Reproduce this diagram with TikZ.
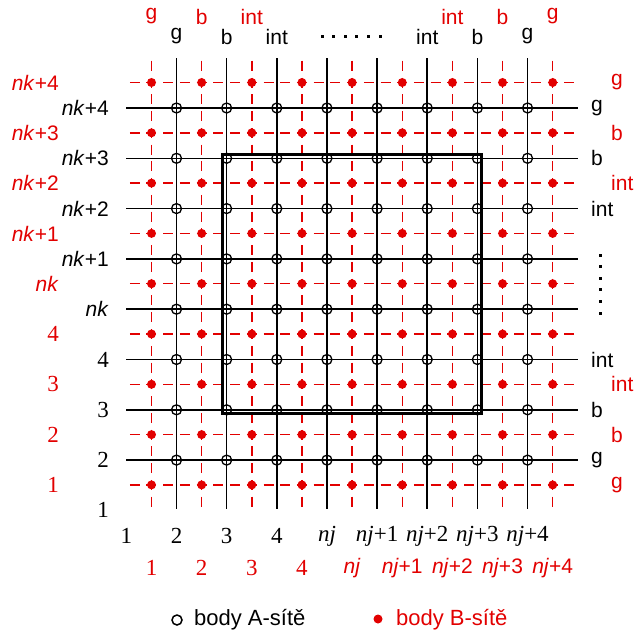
\documentclass[tikz,border=0pt]{standalone}
\usepackage{fontspec}
\setmainfont{Liberation Serif}
\setsansfont{Liberation Sans}
\definecolor{myred}{RGB}{226,0,0}
\begin{document}
\begin{tikzpicture}[x=1pt,y=-1pt,
  gridA/.style={line width=1.6pt, black},
  gridBh/.style={line width=1.5pt, myred, dash pattern=on 10pt off 6.717pt, dash phase=12.94pt},
  gridBv/.style={line width=1.5pt, myred, dash pattern=on 10pt off 6.767pt, dash phase=14.03pt},
  ptA/.style={circle, draw=black, line width=1.3pt, minimum size=10pt, inner sep=0pt},
  ptB/.style={circle, fill=myred, minimum size=9pt, inner sep=0pt},
  lab/.style={font=\fontsize{23}{27}\selectfont, inner sep=0pt},
  labs/.style={font=\fontsize{21}{25}\selectfont\sffamily, inner sep=0pt},
  legend/.style={font=\fontsize{22}{26}\selectfont\sffamily, inner sep=0pt, anchor=west},
  frame/.style={line width=2.4pt, black},
  dotmark/.style={fill=black}
]
\useasboundingbox (0,0) rectangle (636,637);
% B grid (red, dashed)
\foreach \j in {0,...,8} {
  \pgfmathsetmacro\xx{151.5+50.15*\j}
  \coordinate (bvt\j) at (\xx,58);
  \coordinate (bvb\j) at (\xx,509);
  \draw[gridBv] (bvt\j) -- (bvb\j);
}
\foreach \j in {0,...,8} {
  \pgfmathsetmacro\yy{82.5+50.3*\j}
  \coordinate (bhl\j) at (126,\yy);
  \coordinate (bhr\j) at (578,\yy);
  \draw[gridBh] (bhl\j) -- (bhr\j);
}
% A grid (black, solid)
\foreach \i in {0,...,7} {
  \pgfmathsetmacro\xx{176.5+50.15*\i}
  \coordinate (avt\i) at (\xx,58);
  \coordinate (avb\i) at (\xx,509);
  \draw[gridA] (avt\i) -- (avb\i);
}
\foreach \i in {0,...,7} {
  \pgfmathsetmacro\yy{108+50.3*\i}
  \coordinate (ahl\i) at (126,\yy);
  \coordinate (ahr\i) at (578,\yy);
  \draw[gridA] (ahl\i) -- (ahr\i);
}
% frame
\coordinate (fr1) at (222.5,154.5);
\coordinate (fr2) at (481.5,413.5);
\draw[frame] (fr1) rectangle (fr2);
% points
\foreach \i in {0,...,7} {
  \foreach \k in {0,...,7} {
    \pgfmathsetmacro\xx{176.5+50.15*\i}
    \pgfmathsetmacro\yy{108+50.3*\k}
    \node[ptA] (a-\i-\k) at (\xx,\yy) {};
  }
}
\foreach \j in {0,...,8} {
  \foreach \k in {0,...,8} {
    \pgfmathsetmacro\xx{151.5+50.15*\j}
    \pgfmathsetmacro\yy{82.5+50.3*\k}
    \node[ptB] (b-\j-\k) at (\xx,\yy) {};
  }
}
% left labels, A (black)
\foreach \t [count=\n from 0] in {{\textit{nk}+4},{\textit{nk}+3},{\textit{nk}+2},{\textit{nk}+1},{\textit{nk}}} {
  \pgfmathsetmacro\yy{108+50.3*\n}
  \node[labs, anchor=east] (la\n) at (109,\yy) {\t};
}
\foreach \t [count=\n from 5] in {4,3,2,1} {
  \pgfmathsetmacro\yy{108+50.3*\n}
  \node[lab, anchor=east] (la\n) at (109,\yy) {\t};
}
% left labels, B (red)
\foreach \t [count=\n from 0] in {{\textit{nk}+4},{\textit{nk}+3},{\textit{nk}+2},{\textit{nk}+1},{\textit{nk}}} {
  \pgfmathsetmacro\yy{82.5+50.3*\n}
  \node[labs, anchor=east, text=myred] (lb\n) at (59,\yy) {\t};
}
\foreach \t [count=\n from 5] in {4,3,2,1} {
  \pgfmathsetmacro\yy{82.5+50.3*\n}
  \node[lab, anchor=east, text=myred] (lb\n) at (59,\yy) {\t};
}
% bottom labels, A (black)
\foreach \t [count=\n from 0] in {1,2,3,4,{\textit{nj}},{\textit{nj}+1},{\textit{nj}+2},{\textit{nj}+3},{\textit{nj}+4}} {
  \pgfmathsetmacro\xx{126.35+50.15*\n}
  \node[lab] (ba\n) at (\xx,536) {\t};
}
% bottom labels, B (red)
\foreach \t [count=\n from 0] in {1,2,3,4} {
  \pgfmathsetmacro\xx{151.5+50.15*\n}
  \node[lab, text=myred] (bb\n) at (\xx,568) {\t};
}
\foreach \t [count=\n from 4] in {{\textit{nj}},{\textit{nj}+1},{\textit{nj}+2},{\textit{nj}+3},{\textit{nj}+4}} {
  \pgfmathsetmacro\xx{151.5+50.15*\n}
  \node[labs, text=myred] (bb\n) at (\xx,568) {\t};
}
% top labels
\foreach \t/\n in {g/0,b/1,int/2,int/6,b/7,g/8} {
  \pgfmathsetmacro\xx{151.5+50.15*\n}
  \node[labs, text=myred] (tb\n) at (\xx,16.5) {\t};
}
\foreach \t/\n in {g/0,b/1,int/2,int/5,b/6,g/7} {
  \pgfmathsetmacro\xx{176.5+50.15*\n}
  \node[labs] (ta\n) at (\xx,36.5) {\t};
}
\foreach \n in {0,...,5} {
  \pgfmathsetmacro\xx{322+11.6*\n}
  \fill[dotmark] (\xx-1.5,35) rectangle ++(3,3);
}
% right labels
\foreach \t/\n in {g/0,b/1,int/2,int/5,b/6,g/7} {
  \pgfmathsetmacro\yy{108+50.3*\n}
  \node[labs, anchor=west] (ra\n) at (591,\yy) {\t};
}
\foreach \t/\n in {g/0,b/1,int/2,int/6,b/7,g/8} {
  \pgfmathsetmacro\yy{82.5+50.3*\n}
  \node[labs, anchor=west, text=myred] (rb\n) at (611,\yy) {\t};
}
\foreach \n in {0,...,5} {
  \pgfmathsetmacro\yy{255+11.6*\n}
  \fill[dotmark] (598.5,\yy-1.5) rectangle ++(3,3);
}
% legend
\node[ptA, line width=1.5pt] (legA) at (177,620) {};
\node[legend] (legAt) at (194,620) {body A-sítě};
\node[ptB] (legB) at (378,619) {};
\node[legend, text=myred] (legBt) at (396,620) {body B-sítě};
\end{tikzpicture}
\end{document}
